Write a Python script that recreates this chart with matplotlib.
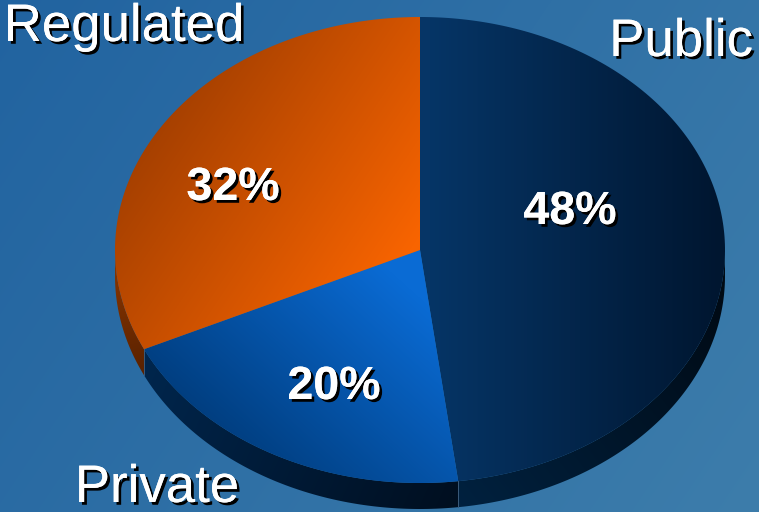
import numpy as np
import matplotlib
matplotlib.use("Agg")
import matplotlib.pyplot as plt
from matplotlib.patches import Polygon
from matplotlib.colors import to_rgb
import matplotlib.patheffects as pe

# data
categories = ["Public", "Private", "Regulated"]
shares = [48, 20, 32]
pct_labels = ["48%", "20%", "32%"]

# layout (pixels)
W, H = 759, 512
cx, cy, rx, ry, depth = 420, 250, 305, 233, 26
top_grad = {
    "Public": ((430, 250), (720, 250), "#063566", "#001630"),
    "Private": ((400, 280), (230, 470), "#0a6bd4", "#003a78"),
    "Regulated": ((410, 250), (140, 70), "#f86400", "#983a00"),
}
side_grad = {
    "Public": ((450, 490), (720, 280), "#01213f", "#000a14"),
    "Private": ((145, 360), (455, 500), "#00264d", "#000f20"),
    "Regulated": ((115, 260), (145, 370), "#8a3600", "#5a2200"),
}
pct_pos = {"Public": (570, 212), "Private": (334, 387), "Regulated": (233, 188)}
name_pos = {"Public": (681, 42), "Private": (157, 488), "Regulated": (124, 27)}

YY, XX = np.mgrid[0:H, 0:W] + 0.5


def gradient(p0, p1, c0, c1):
    d = np.array(p1, float) - np.array(p0, float)
    t = ((XX - p0[0]) * d[0] + (YY - p0[1]) * d[1]) / (d @ d)
    t = np.clip(t, 0, 1)[..., None]
    return (1 - t) * np.array(to_rgb(c0)) + t * np.array(to_rgb(c1))


def arc(t1, t2, dy=0, n=200):
    t = np.radians(np.linspace(t1, t2, n))
    return np.column_stack([cx + rx * np.cos(t), cy - ry * np.sin(t) + dy])


def fill(ax, pts, img):
    poly = Polygon(pts, closed=True, facecolor="none", edgecolor="none")
    ax.add_patch(poly)
    im = ax.imshow(img, extent=(0, W, H, 0), interpolation="bilinear", zorder=2)
    im.set_clip_path(poly)


fig = plt.figure(figsize=(W / 100, H / 100), dpi=100)
ax = fig.add_axes([0, 0, 1, 1])
ax.set_xlim(0, W)
ax.set_ylim(H, 0)
ax.axis("off")

ax.imshow(gradient((0, 0), (W, H), "#2163a0", "#3d7dab"), extent=(0, W, H, 0), zorder=0)

# angles: start at top, go clockwise
angles = []
start = 90.0
for v in shares:
    end = start - 360.0 * v / sum(shares)
    angles.append((start, end))
    start = end

# side walls (only front half visible)
for name, (a1, a2) in zip(categories, angles):
    lo, hi = max(min(a1, a2), -180), min(max(a1, a2), 0)
    if lo >= hi:
        lo, hi = max(min(a1, a2) + 360, -180), min(max(a1, a2) + 360, 0)
    if lo >= hi:
        continue
    top = arc(hi, lo)
    bot = arc(lo, hi, depth)
    fill(ax, np.vstack([top, bot]), gradient(*side_grad[name]))
    for a in (lo, hi):
        if -180 < a < 0:
            p = arc(a, a, n=1)[0]
            ax.plot([p[0], p[0]], [p[1], p[1] + depth], color="#3a5a7a", lw=0.6, zorder=3)

# top faces
for name, (a1, a2) in zip(categories, angles):
    pts = np.vstack([[cx, cy], arc(a1, a2)])
    fill(ax, pts, gradient(*top_grad[name]))

shadow = [pe.withSimplePatchShadow(offset=(2, -2), shadow_rgbFace="black", alpha=1), pe.Normal()]
for name, lab in zip(categories, pct_labels):
    x, y = pct_pos[name]
    ax.text(x, y, lab, color="white", fontsize=33.5, fontweight="bold", family="Liberation Sans",
            ha="center", va="center", path_effects=shadow, zorder=5)
    x, y = name_pos[name]
    ax.text(x, y, name, color="white", fontsize=38, family="Liberation Sans",
            ha="center", va="center", path_effects=shadow, zorder=5)

fig.savefig("out.png", dpi=100)
